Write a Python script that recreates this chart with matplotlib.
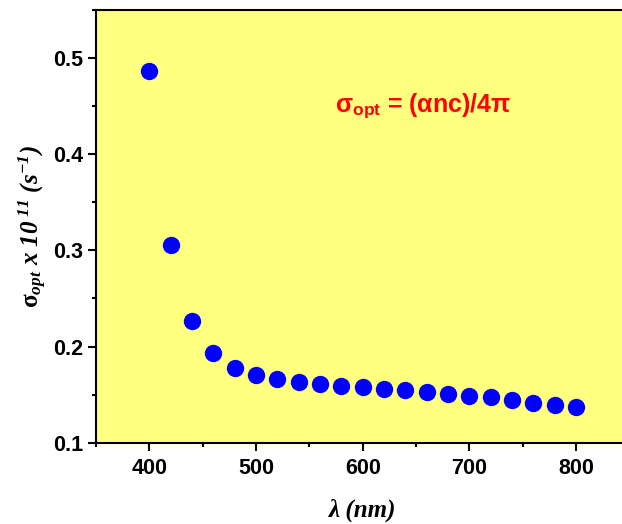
import matplotlib
matplotlib.use("Agg")
import matplotlib.pyplot as plt
from matplotlib.ticker import MultipleLocator

plt.rcParams['mathtext.fontset'] = 'custom'
plt.rcParams['mathtext.rm'] = 'Liberation Serif:bold'
plt.rcParams['mathtext.it'] = 'Liberation Serif:italic:bold'
plt.rcParams['mathtext.bf'] = 'Liberation Serif:bold'

wavelength = [400, 420, 440, 460, 480, 500, 520, 540, 560, 580, 600,
              620, 640, 660, 680, 700, 720, 740, 760, 780, 800]
sigma_opt = [0.487, 0.306, 0.227, 0.1936, 0.178, 0.170, 0.166, 0.163, 0.161,
             0.159, 0.1576, 0.156, 0.1545, 0.1524, 0.1506, 0.1489, 0.1472,
             0.1444, 0.1413, 0.1389, 0.1368]

fig = plt.figure(figsize=(6.22, 5.24), dpi=100)
ax = fig.add_axes([96/622, 1-442.7/524, (629.5-96)/622, (442.7-10)/524])
ax.set_facecolor('#FFFF80')

ax.plot(wavelength, sigma_opt, 'o', color='#0000FF', markersize=12.5,
        markeredgewidth=0, zorder=3)

ax.set_xlim(350, 850)
ax.set_ylim(0.1, 0.55)
ax.xaxis.set_minor_locator(MultipleLocator(50))
ax.yaxis.set_minor_locator(MultipleLocator(0.05))
ax.set_xticks([400, 500, 600, 700, 800])
ax.set_yticks([0.1, 0.2, 0.3, 0.4, 0.5])
ax.set_yticklabels(['0.1', '0.2', '0.3', '0.4', '0.5'])

for s in ax.spines.values():
    s.set_linewidth(1.5)
ax.spines['right'].set_visible(False)

ax.tick_params(which='both', direction='out', width=1.5, top=False, right=False)
ax.tick_params(which='major', length=6)
ax.tick_params(axis='y', which='major', pad=3.5)
ax.tick_params(axis='x', which='major', pad=5)
ax.tick_params(which='minor', length=3)
for lab in ax.get_xticklabels() + ax.get_yticklabels():
    lab.set_fontfamily('Liberation Sans')
    lab.set_fontweight('bold')
    lab.set_fontsize(15.5)

serif = dict(family='Liberation Serif', weight='bold', style='italic', size=18)
ax.set_ylabel(r'$\mathrm{\sigma}_{\mathregular{opt}}$ x 10$^{\mathregular{\ 11}}$ (s$^{\mathregular{-1}}$)',
              fontdict=serif, labelpad=3)
ax.set_xlabel('λ (nm)', fontdict=serif, labelpad=14)

ax.text(574, 0.444, r'σ$_{\mathregular{opt}}$ = (αnc)/4π', color='#FF0000',
        family='Liberation Sans', weight='bold', size=18, ha='left', va='baseline')

fig.savefig('out.png', dpi=100)
